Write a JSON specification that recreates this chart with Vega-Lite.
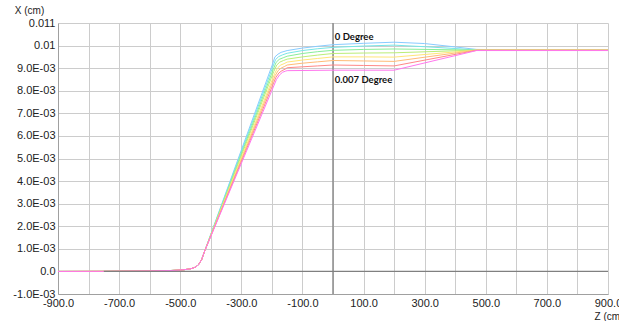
{
  "$schema": "https://vega.github.io/schema/vega-lite/v6.json",
  "autosize": {"type": "none"},
  "padding": {"left": 58, "top": 23, "right": 11, "bottom": 27},
  "width": 550,
  "height": 271,
  "background": "white",
  "config": {"view": {"stroke": null}, "axis": {"labelOverlap": false, "labelBound": false, "labelFlush": false, "tickCount": 25}},
  "datasets": {
    "curves": [
      {"deg": "0", "z": -900, "X": 0}, {"deg": "0", "z": -750, "X": 0.000005}, {"deg": "0", "z": -600, "X": 0.00002}, {"deg": "0", "z": -530, "X": 0.00004}, {"deg": "0", "z": -490, "X": 0.00007}, {"deg": "0", "z": -465, "X": 0.00012}, {"deg": "0", "z": -450, "X": 0.00019}, {"deg": "0", "z": -440, "X": 0.0003}, {"deg": "0", "z": -430, "X": 0.00052}, {"deg": "0", "z": -420, "X": 0.0009},
      {"deg": "0", "z": -200, "X": 0.0091}, {"deg": "0", "z": -190, "X": 0.0095}, {"deg": "0", "z": -180, "X": 0.00962}, {"deg": "0", "z": -170, "X": 0.0097}, {"deg": "0", "z": -150, "X": 0.00978}, {"deg": "0", "z": -100, "X": 0.00989}, {"deg": "0", "z": -50, "X": 0.00997}, {"deg": "0", "z": 0, "X": 0.01004}, {"deg": "0", "z": 100, "X": 0.0101}, {"deg": "0", "z": 200, "X": 0.01015}, {"deg": "0", "z": 300, "X": 0.01009}, {"deg": "0", "z": 400, "X": 0.00994}, {"deg": "0", "z": 470, "X": 0.00983}, {"deg": "0", "z": 530, "X": 0.00982}, {"deg": "0", "z": 560, "X": 0.0098}, {"deg": "0", "z": 900, "X": 0.0098},

      {"deg": "0.001", "z": -900, "X": 0}, {"deg": "0.001", "z": -750, "X": 0.000005}, {"deg": "0.001", "z": -600, "X": 0.00002}, {"deg": "0.001", "z": -530, "X": 0.00004}, {"deg": "0.001", "z": -490, "X": 0.00007}, {"deg": "0.001", "z": -465, "X": 0.00012}, {"deg": "0.001", "z": -450, "X": 0.00019}, {"deg": "0.001", "z": -440, "X": 0.0003}, {"deg": "0.001", "z": -430, "X": 0.00052}, {"deg": "0.001", "z": -420, "X": 0.0009},
      {"deg": "0.001", "z": -198, "X": 0.00902}, {"deg": "0.001", "z": -188, "X": 0.00938}, {"deg": "0.001", "z": -178, "X": 0.00951}, {"deg": "0.001", "z": -165, "X": 0.00959}, {"deg": "0.001", "z": -150, "X": 0.00966}, {"deg": "0.001", "z": -100, "X": 0.00978}, {"deg": "0.001", "z": -50, "X": 0.00986}, {"deg": "0.001", "z": 0, "X": 0.00992}, {"deg": "0.001", "z": 100, "X": 0.00998}, {"deg": "0.001", "z": 200, "X": 0.01002}, {"deg": "0.001", "z": 300, "X": 0.00995}, {"deg": "0.001", "z": 400, "X": 0.00987}, {"deg": "0.001", "z": 470, "X": 0.0098}, {"deg": "0.001", "z": 900, "X": 0.0098},

      {"deg": "0.002", "z": -900, "X": 0}, {"deg": "0.002", "z": -750, "X": 0.000005}, {"deg": "0.002", "z": -600, "X": 0.00002}, {"deg": "0.002", "z": -530, "X": 0.00004}, {"deg": "0.002", "z": -490, "X": 0.00007}, {"deg": "0.002", "z": -465, "X": 0.00012}, {"deg": "0.002", "z": -450, "X": 0.00019}, {"deg": "0.002", "z": -440, "X": 0.0003}, {"deg": "0.002", "z": -430, "X": 0.00052}, {"deg": "0.002", "z": -420, "X": 0.0009},
      {"deg": "0.002", "z": -196, "X": 0.00893}, {"deg": "0.002", "z": -186, "X": 0.00926}, {"deg": "0.002", "z": -176, "X": 0.00939}, {"deg": "0.002", "z": -163, "X": 0.00946}, {"deg": "0.002", "z": -150, "X": 0.00953}, {"deg": "0.002", "z": -100, "X": 0.00965}, {"deg": "0.002", "z": -50, "X": 0.00973}, {"deg": "0.002", "z": 0, "X": 0.00979}, {"deg": "0.002", "z": 100, "X": 0.00983}, {"deg": "0.002", "z": 200, "X": 0.00985}, {"deg": "0.002", "z": 470, "X": 0.0098}, {"deg": "0.002", "z": 900, "X": 0.0098},

      {"deg": "0.003", "z": -900, "X": 0}, {"deg": "0.003", "z": -750, "X": 0.000005}, {"deg": "0.003", "z": -600, "X": 0.00002}, {"deg": "0.003", "z": -530, "X": 0.00004}, {"deg": "0.003", "z": -490, "X": 0.00007}, {"deg": "0.003", "z": -465, "X": 0.00012}, {"deg": "0.003", "z": -450, "X": 0.00019}, {"deg": "0.003", "z": -440, "X": 0.0003}, {"deg": "0.003", "z": -430, "X": 0.00052}, {"deg": "0.003", "z": -420, "X": 0.0009},
      {"deg": "0.003", "z": -194, "X": 0.00885}, {"deg": "0.003", "z": -184, "X": 0.00914}, {"deg": "0.003", "z": -174, "X": 0.00927}, {"deg": "0.003", "z": -162, "X": 0.00934}, {"deg": "0.003", "z": -150, "X": 0.0094}, {"deg": "0.003", "z": -100, "X": 0.0095}, {"deg": "0.003", "z": -50, "X": 0.00958}, {"deg": "0.003", "z": 0, "X": 0.00965}, {"deg": "0.003", "z": 100, "X": 0.00967}, {"deg": "0.003", "z": 200, "X": 0.00968}, {"deg": "0.003", "z": 470, "X": 0.0098}, {"deg": "0.003", "z": 900, "X": 0.0098},

      {"deg": "0.004", "z": -900, "X": 0}, {"deg": "0.004", "z": -750, "X": 0.000005}, {"deg": "0.004", "z": -600, "X": 0.00002}, {"deg": "0.004", "z": -530, "X": 0.00004}, {"deg": "0.004", "z": -490, "X": 0.00007}, {"deg": "0.004", "z": -465, "X": 0.00012}, {"deg": "0.004", "z": -450, "X": 0.00019}, {"deg": "0.004", "z": -440, "X": 0.0003}, {"deg": "0.004", "z": -430, "X": 0.00052}, {"deg": "0.004", "z": -420, "X": 0.0009},
      {"deg": "0.004", "z": -191, "X": 0.00876}, {"deg": "0.004", "z": -181, "X": 0.00902}, {"deg": "0.004", "z": -171, "X": 0.00914}, {"deg": "0.004", "z": -160, "X": 0.0092}, {"deg": "0.004", "z": -150, "X": 0.00927}, {"deg": "0.004", "z": -100, "X": 0.00936}, {"deg": "0.004", "z": -50, "X": 0.00943}, {"deg": "0.004", "z": 0, "X": 0.0095}, {"deg": "0.004", "z": 100, "X": 0.0095}, {"deg": "0.004", "z": 200, "X": 0.00949}, {"deg": "0.004", "z": 470, "X": 0.0098}, {"deg": "0.004", "z": 900, "X": 0.0098},

      {"deg": "0.005", "z": -900, "X": 0}, {"deg": "0.005", "z": -750, "X": 0.000005}, {"deg": "0.005", "z": -600, "X": 0.00002}, {"deg": "0.005", "z": -530, "X": 0.00004}, {"deg": "0.005", "z": -490, "X": 0.00007}, {"deg": "0.005", "z": -465, "X": 0.00012}, {"deg": "0.005", "z": -450, "X": 0.00019}, {"deg": "0.005", "z": -440, "X": 0.0003}, {"deg": "0.005", "z": -430, "X": 0.00052}, {"deg": "0.005", "z": -420, "X": 0.0009},
      {"deg": "0.005", "z": -189, "X": 0.00868}, {"deg": "0.005", "z": -179, "X": 0.0089}, {"deg": "0.005", "z": -169, "X": 0.00901}, {"deg": "0.005", "z": -158, "X": 0.00908}, {"deg": "0.005", "z": -150, "X": 0.00914}, {"deg": "0.005", "z": -100, "X": 0.00922}, {"deg": "0.005", "z": -50, "X": 0.00928}, {"deg": "0.005", "z": 0, "X": 0.00934}, {"deg": "0.005", "z": 100, "X": 0.00932}, {"deg": "0.005", "z": 200, "X": 0.0093}, {"deg": "0.005", "z": 470, "X": 0.0098}, {"deg": "0.005", "z": 900, "X": 0.0098},

      {"deg": "0.006", "z": -900, "X": 0}, {"deg": "0.006", "z": -750, "X": 0.000005}, {"deg": "0.006", "z": -600, "X": 0.00002}, {"deg": "0.006", "z": -530, "X": 0.00004}, {"deg": "0.006", "z": -490, "X": 0.00007}, {"deg": "0.006", "z": -465, "X": 0.00012}, {"deg": "0.006", "z": -450, "X": 0.00019}, {"deg": "0.006", "z": -440, "X": 0.0003}, {"deg": "0.006", "z": -430, "X": 0.00052}, {"deg": "0.006", "z": -420, "X": 0.0009},
      {"deg": "0.006", "z": -187, "X": 0.00859}, {"deg": "0.006", "z": -177, "X": 0.00879}, {"deg": "0.006", "z": -167, "X": 0.00889}, {"deg": "0.006", "z": -156, "X": 0.00896}, {"deg": "0.006", "z": -150, "X": 0.00902}, {"deg": "0.006", "z": -100, "X": 0.00906}, {"deg": "0.006", "z": -50, "X": 0.0091}, {"deg": "0.006", "z": 0, "X": 0.00914}, {"deg": "0.006", "z": 100, "X": 0.00912}, {"deg": "0.006", "z": 200, "X": 0.0091}, {"deg": "0.006", "z": 470, "X": 0.00979}, {"deg": "0.006", "z": 900, "X": 0.00979},

      {"deg": "0.007", "z": -900, "X": 0}, {"deg": "0.007", "z": -750, "X": 0.000005}, {"deg": "0.007", "z": -600, "X": 0.00002}, {"deg": "0.007", "z": -530, "X": 0.00004}, {"deg": "0.007", "z": -490, "X": 0.00007}, {"deg": "0.007", "z": -465, "X": 0.00012}, {"deg": "0.007", "z": -450, "X": 0.00019}, {"deg": "0.007", "z": -440, "X": 0.0003}, {"deg": "0.007", "z": -430, "X": 0.00052}, {"deg": "0.007", "z": -420, "X": 0.0009},
      {"deg": "0.007", "z": -185, "X": 0.0085}, {"deg": "0.007", "z": -175, "X": 0.0087}, {"deg": "0.007", "z": -165, "X": 0.00882}, {"deg": "0.007", "z": -155, "X": 0.00887}, {"deg": "0.007", "z": -150, "X": 0.00889}, {"deg": "0.007", "z": 0, "X": 0.00891}, {"deg": "0.007", "z": 200, "X": 0.00891}, {"deg": "0.007", "z": 470, "X": 0.00978}, {"deg": "0.007", "z": 900, "X": 0.00978}
    ],
    "labels": [
      {"label": "0 Degree", "z": 6, "X": 0.01038},
      {"label": "0.007 Degree", "z": 6, "X": 0.00848}
    ],
    "vline": [{"z": 0, "y1": -0.001, "y2": 0.011}],
    "hline": [{"z1": -750, "z2": 900, "X": 0}]
  },
  "layer": [
    {
      "data": {"name": "vline"},
      "mark": {"type": "rule", "color": "#8c8c8c", "strokeWidth": 1.5},
      "encoding": {
        "x": {
          "field": "z", "type": "quantitative",
          "scale": {"domain": [-900, 900], "nice": false, "zero": false},
          "axis": {
            "values": [-900, -800, -700, -600, -500, -400, -300, -200, -100, 0, 100, 200, 300, 400, 500, 600, 700, 800, 900],
            "tickCount": 25,
            "labelExpr": "(datum.value + 900) % 200 == 0 ? ((datum.value < 0 ? '-' : '') + abs(datum.value) + '.0') : ''",
            "grid": true, "gridColor": "#cccccc", "gridWidth": 1, "gridOpacity": 1,
            "ticks": false,
            "domainColor": "#a0a0a0", "domainWidth": 1,
            "labelFont": "Liberation Sans", "labelFontSize": 11, "labelColor": "#222222",
            "labelPadding": 3, "labelFlush": false, "labelOverlap": false, "labelBound": false,
            "title": "Z (cm)", "titleFont": "Liberation Sans", "titleFontSize": 10, "titleFontWeight": "normal", "titleColor": "#222222",
            "titleAnchor": null, "titleAlign": "left", "titleBaseline": "middle", "titleX": 536, "titleY": 22
          }
        },
        "y": {
          "field": "y1", "type": "quantitative",
          "scale": {"domain": [-0.001, 0.011], "nice": false, "zero": false},
          "axis": {
            "values": [-0.001, 0, 0.001, 0.002, 0.003, 0.004, 0.005, 0.006, 0.007, 0.008, 0.009, 0.01, 0.011],
            "tickCount": 25,
            "labelExpr": "round(datum.value*1000) == 11 ? '0.011' : round(datum.value*1000) == 10 ? '0.01' : round(datum.value*1000) == 0 ? '0.0' : ((round(datum.value*1000) < 0 ? '-' : '') + abs(round(datum.value*1000)) + '.0E-03')",
            "grid": true, "gridColor": "#cccccc", "gridWidth": 1, "gridOpacity": 1,
            "ticks": false,
            "domainColor": "#a0a0a0", "domainWidth": 1,
            "labelFont": "Liberation Sans", "labelFontSize": 11, "labelColor": "#222222",
            "labelPadding": 3, "labelFlush": false, "labelOverlap": false, "labelBound": false,
            "title": "X (cm)", "titleFont": "Liberation Sans", "titleFontSize": 10, "titleFontWeight": "normal", "titleColor": "#222222",
            "titleAngle": 0, "titleAnchor": null, "titleAlign": "center", "titleBaseline": "middle", "titleX": -29, "titleY": -13
          }
        },
        "y2": {"field": "y2"}
      }
    },
    {
      "data": {"name": "curves"},
      "mark": {"type": "line", "strokeWidth": 1, "interpolate": "linear"},
      "encoding": {
        "x": {"field": "z", "type": "quantitative"},
        "y": {"field": "X", "type": "quantitative"},
        "color": {
          "field": "deg", "type": "nominal",
          "scale": {
            "domain": ["0", "0.001", "0.002", "0.003", "0.004", "0.005", "0.006", "0.007"],
            "range": ["#88ccff", "#77e6e6", "#88ee99", "#bbee77", "#ffe677", "#ffbb77", "#ff8888", "#ff77ee"]
          },
          "legend": null
        }
      }
    },
    {
      "data": {"name": "hline"},
      "mark": {"type": "rule", "color": "#808080", "strokeWidth": 1.2},
      "encoding": {
        "x": {"field": "z1", "type": "quantitative"},
        "x2": {"field": "z2"},
        "y": {"field": "X", "type": "quantitative"}
      }
    },
    {
      "data": {"name": "labels"},
      "mark": {"type": "text", "align": "left", "baseline": "middle", "font": "Lato", "fontWeight": "bold", "fontSize": 9.5, "color": "#111111"},
      "encoding": {
        "x": {"field": "z", "type": "quantitative"},
        "y": {"field": "X", "type": "quantitative"},
        "text": {"field": "label"}
      }
    }
  ]
}
